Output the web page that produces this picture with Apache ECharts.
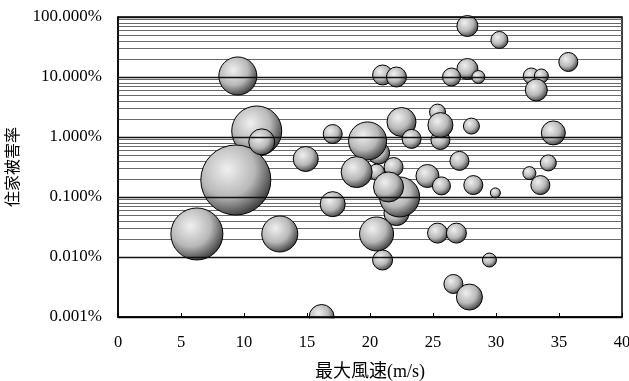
<!DOCTYPE html>
<html>
<head>
<meta charset="utf-8">
<script src="https://cdn.jsdelivr.net/npm/echarts@6/dist/echarts.min.js"></script>
<style>html,body{margin:0;padding:0;background:#fff}#c{width:629px;height:381px}</style>
</head>
<body>
<div id="c"></div>
<script>
// Data: maximum wind speed (m/s), housing damage rate (%), bubble magnitude
const windSpeed = [27.73,26.47,28.6,27.73,30.27,35.74,32.8,33.6,33.2,21.0,22.1,9.51,11.01,9.35,11.41,6.26,12.84,14.9,16.16,17.04,17.04,20.68,19.81,20.52,18.94,21.87,22.1,22.35,21.47,20.52,21.0,22.5,23.3,24.56,25.67,25.36,25.59,25.59,27.1,25.36,26.86,28.05,28.2,29.95,29.48,26.62,27.89,34.55,34.15,32.65,33.52];
const damageRate = [13.6,10,10,70.8,41.4,17.8,10.4,10.4,6.07,10.8,10,10.4,1.26,0.192,0.83,0.0242,0.0242,0.43,0.001,1.12,0.076,0.54,0.86,0.26,0.26,0.316,0.054,0.1,0.147,0.0242,0.0089,1.78,0.93,0.224,0.153,2.6,0.89,1.58,0.4,0.025,0.025,1.52,0.158,0.117,0.0089,0.00355,0.00215,1.17,0.37,0.25,0.158];
const bubbleValue = [10.5,9,6.5,10.5,8.5,9.5,8,7,11,10,10,19,25,35,13,26,18,12.5,12.5,9.5,12.5,11,19,8,15.5,9.5,12.5,20,15,17,10,14.5,9.5,11.5,9,8,9.5,12.5,9.5,10,10,8,9.5,5,7,9.5,13,12,8,6.5,9.5];
const xTicks = {min: 0, max: 40, interval: 5};
const yTicks = {min: 0.001, max: 100};
const minorSteps = [2,3,4,5,6,7,8,9];
const decades = [0.001,0.01,0.1,1,10];

const points = windSpeed.map((x, i) => [x, damageRate[i], bubbleValue[i]]);
const minorVals = [];
decades.forEach(d => minorSteps.forEach(k => minorVals.push(+(k * d).toPrecision(3))));

const chart = echarts.init(document.getElementById('c'));
const serif = "'Liberation Serif', 'Noto Sans CJK JP', serif";
chart.setOption({
  animation: false,
  grid: {left: 118, right: 7, top: 17, bottom: 64, containLabel: false, outerBoundsMode: 'none',
    show: true, borderColor: '#000', borderWidth: 1.5, backgroundColor: 'transparent'},
  xAxis: {
    type: 'value', min: xTicks.min, max: xTicks.max, interval: xTicks.interval, z: 20,
    name: '最大風速(m/s)', nameLocation: 'middle', nameGap: 46,
    nameTextStyle: {fontFamily: serif, fontSize: 18, color: '#000'},
    axisLine: {show: true, lineStyle: {color: '#000', width: 1.5}},
    axisTick: {show: true, inside: true, length: 4, lineStyle: {color: '#000'}},
    axisLabel: {fontFamily: serif, fontSize: 16.5, color: '#000', margin: 17},
    splitLine: {show: false}
  },
  yAxis: {
    type: 'log', logBase: 10, min: yTicks.min, max: yTicks.max, splitNumber: 5, z: 20,
    name: '住家被害率', nameLocation: 'middle', nameGap: 92,
    nameTextStyle: {fontFamily: serif, fontSize: 16, color: '#000'},
    axisLine: {show: true, lineStyle: {color: '#000', width: 1.5}},
    axisTick: {show: false},
    axisLabel: {fontFamily: serif, fontSize: 17, color: '#000', margin: 16,
      formatter: v => v.toFixed(3) + '%'},
    splitLine: {show: true, lineStyle: {color: '#111', width: 1.3}}
  },
  graphic: [{type: 'rect', z: 15, shape: {x: 118, y: 318.5, width: 505, height: 18}, style: {fill: '#fff'}}],
  series: [
    {
      type: 'line', data: [], z: 1, silent: true,
      markLine: {silent: true, symbol: 'none', label: {show: false},
        lineStyle: {color: '#6a6a6a', width: 1, type: 'solid'},
        emphasis: {disabled: true},
        data: minorVals.map(v => ({yAxis: v}))}
    },
    {
      type: 'scatter', z: 10, data: points,
      symbolSize: d => d[2] * 2,
      itemStyle: {
        color: new echarts.graphic.RadialGradient(0.38, 0.35, 0.7, [
          {offset: 0, color: '#f0f0f0'},
          {offset: 0.55, color: '#b8b8b8'},
          {offset: 1, color: '#333333'}
        ]),
        borderColor: '#000', borderWidth: 1, opacity: 1
      },
      emphasis: {disabled: true}
    }
  ]
});
</script>
</body>
</html>
